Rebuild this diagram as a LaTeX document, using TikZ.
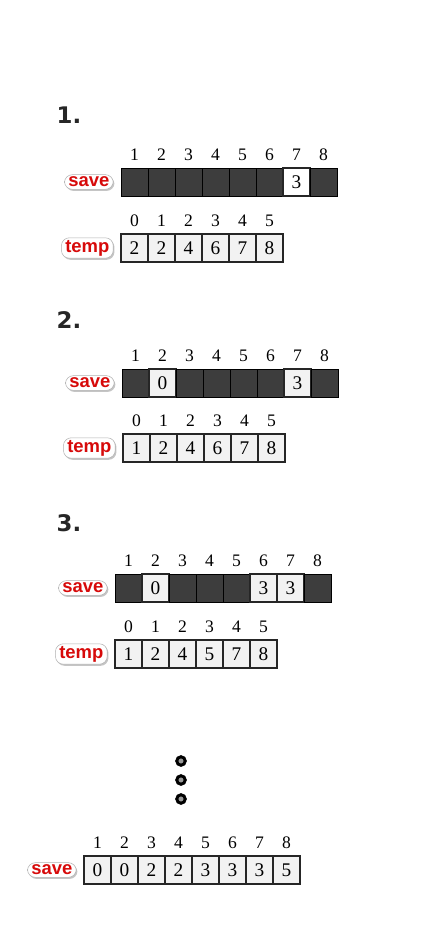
\documentclass[tikz,border=0pt]{standalone}
\usepackage{fontspec}
\setmainfont{Liberation Serif}
\newfontfamily\headfont{DejaVu Sans}
\newfontfamily\tagfont{Liberation Sans}
\usetikzlibrary{positioning}
\usetikzlibrary{shadows}
\definecolor{tagred}{RGB}{215,10,10}

\begin{document}
\begin{tikzpicture}[x=0.02cm,y=-0.02cm,
  cell/.style={draw=black!85,line width=0.6pt,minimum width=0.54cm,minimum height=0.56cm,inner sep=0pt,outer sep=0pt,font=\fontsize{11}{12}\selectfont},
  dark/.style={cell,draw=black,line width=0.5pt,fill=black!76},
  light/.style={cell,fill=black!5},
  blank/.style={cell,fill=white},
  idx/.style={inner sep=0pt,font=\fontsize{10}{12}\selectfont},
  tag/.style={rounded corners=4.5pt,fill=white,draw=black!30,line width=0.3pt,inner xsep=2.2pt,inner ysep=1.3pt,text=tagred,font=\tagfont\bfseries\fontsize{10.5}{11}\selectfont,drop shadow={shadow xshift=0.7pt,shadow yshift=-0.9pt,fill=black!45}},
  head/.style={font=\headfont\bfseries\fontsize{13}{15}\selectfont,text=black!85},
  dot/.style={circle,draw=black,line width=1.7pt,fill=black!40,minimum size=0.17cm,inner sep=0pt}]

  \fill[white] (0,0) rectangle (445,948);
  \useasboundingbox (0,0) rectangle (445,948);

  % 1.
  \node[head] (h1) at (69,115) {1.};
  \foreach \s/\v [count=\i] in {dark/,dark/,dark/,dark/,dark/,dark/,blank/3,dark/}
    \node[\s] (sa\i) at ({107.5+27*\i},182) {\v};
  \foreach \i in {1,...,8}
    \node[idx,above=1.4mm of sa\i] (nsa\i) {\i};
  \node[tag,left=0.15cm of sa1] (lsa) {save};
  \foreach \v [count=\i from 0] in {2,2,4,6,7,8}
    \node[light] (ta\i) at ({134.5+27*\i},248) {\v};
  \foreach \i in {0,...,5}
    \node[idx,above=1.4mm of ta\i] (nta\i) {\i};
  \node[tag,left=0.15cm of ta0] (lta) {temp};

  % 2.
  \node[head] (h2) at (69,320) {2.};
  \foreach \s/\v [count=\i] in {dark/,light/0,dark/,dark/,dark/,dark/,light/3,dark/}
    \node[\s] (sb\i) at ({108.5+27*\i},383) {\v};
  \foreach \i in {1,...,8}
    \node[idx,above=1.4mm of sb\i] (nsb\i) {\i};
  \node[tag,left=0.15cm of sb1] (lsb) {save};
  \foreach \v [count=\i from 0] in {1,2,4,6,7,8}
    \node[light] (tb\i) at ({136.5+27*\i},448) {\v};
  \foreach \i in {0,...,5}
    \node[idx,above=1.4mm of tb\i] (ntb\i) {\i};
  \node[tag,left=0.15cm of tb0] (ltb) {temp};

  % 3.
  \node[head] (h3) at (69,523) {3.};
  \foreach \s/\v [count=\i] in {dark/,light/0,dark/,dark/,dark/,light/3,light/3,dark/}
    \node[\s] (sc\i) at ({101.5+27*\i},588) {\v};
  \foreach \i in {1,...,8}
    \node[idx,above=1.4mm of sc\i] (nsc\i) {\i};
  \node[tag,left=0.15cm of sc1] (lsc) {save};
  \foreach \v [count=\i from 0] in {1,2,4,5,7,8}
    \node[light] (tc\i) at ({128.5+27*\i},654) {\v};
  \foreach \i in {0,...,5}
    \node[idx,above=1.4mm of tc\i] (ntc\i) {\i};
  \node[tag,left=0.15cm of tc0] (ltc) {temp};

  \node[dot] (d1) at (181,761) {};
  \node[dot] (d2) at (181,780) {};
  \node[dot] (d3) at (181,799) {};

  % result
  \foreach \v [count=\i] in {0,0,2,2,3,3,3,5}
    \node[light] (sd\i) at ({70.5+27*\i},870) {\v};
  \foreach \i in {1,...,8}
    \node[idx,above=1.4mm of sd\i] (nsd\i) {\i};
  \node[tag,left=0.15cm of sd1] (lsd) {save};

\end{tikzpicture}
\end{document}
